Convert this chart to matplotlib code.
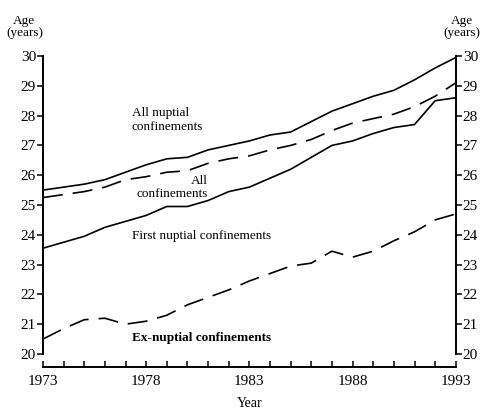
import matplotlib.pyplot as plt
from matplotlib.ticker import MultipleLocator

plt.rcParams['font.family'] = ['Liberation Serif', 'DejaVu Serif']

years = list(range(1973, 1994))

all_nuptial = [25.5, 25.6, 25.7, 25.85, 26.1, 26.35, 26.55, 26.6, 26.85, 27.0, 27.15,
               27.35, 27.45, 27.8, 28.15, 28.4, 28.65, 28.85, 29.2, 29.6, 29.95]
all_conf = [25.25, 25.35, 25.45, 25.6, 25.85, 25.95, 26.1, 26.15, 26.4, 26.55, 26.65,
            26.85, 27.0, 27.2, 27.5, 27.75, 27.9, 28.05, 28.3, 28.65, 29.1]
first_nuptial = [23.55, 23.75, 23.95, 24.25, 24.45, 24.65, 24.95, 24.95, 25.15, 25.45, 25.6,
                 25.9, 26.2, 26.6, 27.0, 27.15, 27.4, 27.6, 27.7, 28.5, 28.6]
ex_nuptial = [20.5, 20.85, 21.15, 21.2, 21.0, 21.1, 21.3, 21.65, 21.9, 22.15, 22.45,
              22.7, 22.95, 23.05, 23.45, 23.25, 23.45, 23.8, 24.1, 24.5, 24.7]

fig = plt.figure(figsize=(4.88, 4.12), dpi=100)
ax = fig.add_axes([0.088, 0.109, 0.846, 0.755])

ax.plot(years, all_nuptial, color='black', lw=1.2)
ax.plot(years, all_conf, color='black', lw=1.2, dashes=(12, 6))
ax.plot(years, first_nuptial, color='black', lw=1.2)
ax.plot(years, ex_nuptial, color='black', lw=1.2, dashes=(12, 6))

ax.set_xlim(1973, 1993)
ax.set_ylim(19.56, 30)

ax.spines['top'].set_visible(False)
for s in ['left', 'right', 'bottom']:
    ax.spines[s].set_linewidth(1.4)
ax.spines['left'].set_bounds(20, 30)
ax.spines['right'].set_bounds(20, 30)

ax.set_xticks([1973, 1978, 1983, 1988, 1993])
ax.xaxis.set_minor_locator(MultipleLocator(1))
ax.tick_params(axis='x', which='both', direction='in', length=4, width=1.1,
               labelsize=11, pad=6)
ax.set_yticks(range(20, 31))
ax.tick_params(axis='y', which='both', direction='out', length=4, width=1.1,
               labelsize=11, left=True, right=True, labelleft=True, labelright=True, pad=1)

ax.set_xlabel('Year', fontsize=10, labelpad=6)

fig.text(0.05, 0.935, 'Age\n(years)', ha='center', va='center', fontsize=9.5, linespacing=1.0)
fig.text(0.947, 0.935, 'Age\n(years)', ha='center', va='center', fontsize=9.5, linespacing=1.0)

ax.text(1977.3, 27.85, 'All nuptial\nconfinements', fontsize=9.5, va='center', ha='left', linespacing=1.3)
ax.text(1981.0, 25.6, 'All\nconfinements', fontsize=9.5, va='center', ha='right',
        multialignment='right', linespacing=1.1)
ax.text(1977.3, 23.95, 'First nuptial confinements', fontsize=9.5, va='center', ha='left')
ax.text(1977.3, 20.55, 'Ex-nuptial confinements', fontsize=9.5, va='center', ha='left',
        fontweight='bold')

fig.savefig('out.png', dpi=100)
